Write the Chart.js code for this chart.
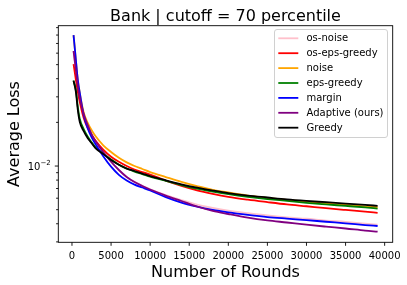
<!DOCTYPE html>
<html><head><meta charset="utf-8">
<script src="https://cdn.jsdelivr.net/npm/chart.js@4.4.0/dist/chart.umd.min.js"></script>
<style>html,body{margin:0;padding:0;background:#fff;}#wrap{width:407px;height:285px;}</style>
</head><body><div id="wrap"><canvas id="c" width="407" height="285"></canvas></div>
<script>
const rounds = [200, 500, 750, 1000, 1500, 2000, 2500, 3000, 4000, 5000, 6000, 7000, 8000, 9000, 10000, 12000, 14000, 16000, 18000, 20000, 22500, 25000, 27500, 30000, 32500, 35000, 37500, 39100];
const osNoise = [0.0618, 0.0457, 0.0355, 0.0293, 0.0227, 0.0191, 0.0166, 0.0149, 0.0125, 0.0107, 0.00940, 0.00842, 0.00778, 0.00731, 0.00692, 0.00631, 0.00583, 0.00543, 0.00515, 0.00493, 0.00473, 0.00456, 0.00443, 0.00433, 0.00421, 0.00412, 0.00401, 0.00394];
const osEpsGreedy = [0.0505, 0.0392, 0.0324, 0.0276, 0.0214, 0.0183, 0.0164, 0.0150, 0.0130, 0.0116, 0.0107, 0.0100, 0.00946, 0.00909, 0.00874, 0.00793, 0.00730, 0.00680, 0.00643, 0.00613, 0.00586, 0.00564, 0.00544, 0.00528, 0.00512, 0.00498, 0.00485, 0.00476];
const noise = [0.0800, 0.0538, 0.0392, 0.0319, 0.0234, 0.0199, 0.0177, 0.0161, 0.0139, 0.0125, 0.0114, 0.0106, 0.0100, 0.00954, 0.00909, 0.00840, 0.00778, 0.00728, 0.00686, 0.00657, 0.00626, 0.00604, 0.00585, 0.00568, 0.00553, 0.00540, 0.00527, 0.00520];
const epsGreedy = [0.0388, 0.0334, 0.0255, 0.0211, 0.0180, 0.0160, 0.0146, 0.0135, 0.0122, 0.0111, 0.0102, 0.00961, 0.00916, 0.00881, 0.00846, 0.00790, 0.00740, 0.00698, 0.00667, 0.00640, 0.00613, 0.00592, 0.00575, 0.00558, 0.00544, 0.00531, 0.00518, 0.00509];
const margin = [0.0800, 0.0538, 0.0392, 0.0319, 0.0225, 0.0183, 0.0158, 0.0142, 0.0117, 0.00990, 0.00870, 0.00795, 0.00745, 0.00711, 0.00678, 0.00611, 0.00560, 0.00525, 0.00499, 0.00480, 0.00461, 0.00445, 0.00434, 0.00424, 0.00413, 0.00403, 0.00392, 0.00386];
const adaptive = [0.0621, 0.0459, 0.0356, 0.0294, 0.0228, 0.0192, 0.0166, 0.0149, 0.0125, 0.0107, 0.00939, 0.00840, 0.00775, 0.00728, 0.00689, 0.00626, 0.00574, 0.00526, 0.00491, 0.00467, 0.00441, 0.00422, 0.00408, 0.00394, 0.00382, 0.00371, 0.00359, 0.00353];
const greedy = [0.0388, 0.0324, 0.0243, 0.0201, 0.0174, 0.0156, 0.0144, 0.0133, 0.0121, 0.0110, 0.0102, 0.00961, 0.00924, 0.00888, 0.00853, 0.00797, 0.00748, 0.00709, 0.00678, 0.00651, 0.00626, 0.00607, 0.00589, 0.00575, 0.00563, 0.00551, 0.00539, 0.00532];

const seriesLabels = ['os-noise', 'os-eps-greedy', 'noise', 'eps-greedy', 'margin', 'Adaptive (ours)', 'Greedy'];
const seriesColors = ['#ffc0cb', '#ff0000', '#ffa500', '#008000', '#0000ff', '#800080', '#000000'];
const seriesValues = [osNoise, osEpsGreedy, noise, epsGreedy, margin, adaptive, greedy];

const xTicks = [0, 5000, 10000, 15000, 20000, 25000, 30000, 35000, 40000];
const yMajorTicks = [0.01];
const yMinorTicks = [0.003, 0.004, 0.005, 0.006, 0.007, 0.008, 0.009, 0.02, 0.03, 0.04, 0.05, 0.06, 0.07, 0.08, 0.09];
const titleText = 'Bank | cutoff = 70 percentile';
const xLabel = 'Number of Rounds';
const yLabel = 'Average Loss';

const FONT = '"DejaVu Sans", sans-serif';

const datasets = seriesValues.map((vals, i) => ({
  label: seriesLabels[i],
  data: rounds.map((r, j) => ({x: r, y: vals[j]})),
  borderColor: seriesColors[i],
  backgroundColor: seriesColors[i],
  borderWidth: 1.8,
  pointRadius: 0,
  fill: false,
  cubicInterpolationMode: 'monotone',
  order: seriesValues.length - i
}));

const mplPlugin = {
  id: 'mpl',
  afterDatasetsDraw(chart) {
    const {ctx, chartArea: a, scales} = chart;
    const x = scales.x, y = scales.y;
    ctx.save();
    ctx.strokeStyle = '#000';
    ctx.fillStyle = '#000';
    ctx.lineWidth = 0.9;
    ctx.strokeRect(a.left, a.top, a.right - a.left, a.bottom - a.top);
    // x ticks
    ctx.font = '10px ' + FONT;
    ctx.textAlign = 'center';
    ctx.textBaseline = 'alphabetic';
    xTicks.forEach(v => {
      const px = x.getPixelForValue(v);
      ctx.beginPath(); ctx.moveTo(px, a.bottom); ctx.lineTo(px, a.bottom + 3.5); ctx.stroke();
      ctx.fillText(String(v), px, 258.5);
    });
    // y ticks
    yMinorTicks.forEach(v => {
      const py = y.getPixelForValue(v);
      ctx.beginPath(); ctx.moveTo(a.left, py); ctx.lineTo(a.left - 2.2, py); ctx.stroke();
    });
    yMajorTicks.forEach(v => {
      const py = y.getPixelForValue(v);
      ctx.beginPath(); ctx.moveTo(a.left, py); ctx.lineTo(a.left - 3.5, py); ctx.stroke();
      const e = Math.round(Math.log10(v));
      const sup = '\u2212' + Math.abs(e);
      ctx.font = '7px ' + FONT;
      const sw = ctx.measureText(sup).width;
      ctx.textAlign = 'right';
      const right = a.left - 3.5 - 4;
      ctx.fillText(sup, right, py - 1);
      ctx.font = '10px ' + FONT;
      ctx.fillText('10', right - sw, py + 3.5);
    });
    // labels
    ctx.font = '16px ' + FONT;
    ctx.textAlign = 'center';
    ctx.fillText(xLabel, (a.left + a.right) / 2, 276.5);
    ctx.fillText(titleText, (a.left + a.right) / 2, 20.5);
    ctx.save();
    ctx.translate(18.5, (a.top + a.bottom) / 2);
    ctx.rotate(-Math.PI / 2);
    ctx.fillText(yLabel, 0, 0);
    ctx.restore();
    // legend
    const bx = 274.5, by = 29.5, bw = 113, bh = 108;
    ctx.beginPath();
    if (ctx.roundRect) ctx.roundRect(bx, by, bw, bh, 2.5); else ctx.rect(bx, by, bw, bh);
    ctx.fillStyle = 'rgba(255,255,255,0.8)';
    ctx.fill();
    ctx.strokeStyle = '#d0d0d0';
    ctx.lineWidth = 1;
    ctx.stroke();
    ctx.font = '10px ' + FONT;
    ctx.textAlign = 'left';
    chart.data.datasets.forEach((ds, i) => {
      const cy = 38.3 + i * 14.9;
      ctx.strokeStyle = ds.borderColor;
      ctx.lineWidth = 1.8;
      ctx.beginPath(); ctx.moveTo(278.3, cy); ctx.lineTo(298.3, cy); ctx.stroke();
      ctx.fillStyle = '#000';
      ctx.fillText(ds.label, 306.5, cy + 3);
    });
    ctx.restore();
  }
};

new Chart(document.getElementById('c'), {
  type: 'line',
  data: {datasets},
  options: {
    responsive: false,
    animation: false,
    devicePixelRatio: 1,
    layout: {padding: {left: 58.3, right: 14.3, top: 25.7, bottom: 42.7}},
    plugins: {legend: {display: false}, title: {display: false}, tooltip: {enabled: false}},
    scales: {
      x: {type: 'linear', display: false, min: -1750, max: 41030},
      y: {type: 'logarithmic', display: false, min: 0.00298, max: 0.0928}
    }
  },
  plugins: [mplPlugin]
});
</script>
</body></html>
